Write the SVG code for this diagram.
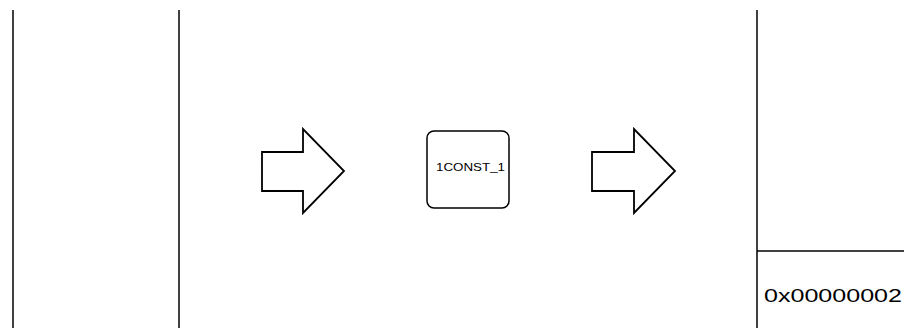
<svg xmlns="http://www.w3.org/2000/svg" width="904" height="328" viewBox="0 0 904 328">
  <style>
    .rule { stroke: #000; stroke-width: 1.5; fill: none; }
    .arrow { stroke: #000; stroke-width: 1.8; fill: #fff; stroke-linejoin: miter; }
    .box { stroke: #000; stroke-width: 1.5; fill: #fff; }
    .lbl { font-family: "Liberation Sans", Arial, sans-serif; fill: #000; }
  </style>
  <rect width="904" height="328" fill="#fff"/>

  <!-- column dividers -->
  <g id="dividers">
    <line class="rule" x1="13" y1="10" x2="13" y2="328"/>
    <line class="rule" x1="179" y1="10" x2="179" y2="328"/>
    <line class="rule" x1="757" y1="10" x2="757" y2="328"/>
    <line class="rule" x1="757" y1="251" x2="904" y2="251"/>
  </g>

  <g id="connectors">
    <polygon class="arrow" points="262,152 303,152 303,129 344,171 303,213 303,191 262,191"/>
    <polygon class="arrow" points="592,152 634,152 634,129 675,171 634,213 634,191 592,191"/>
  </g>

  <g id="const-node">
    <rect class="box" x="427" y="131" width="82" height="77" rx="7" ry="7"/>
    <text class="lbl" x="436" y="171" font-size="11" textLength="69" lengthAdjust="spacingAndGlyphs">1CONST_1</text>
  </g>

  <g id="value-cell">
    <text class="lbl" x="764" y="302" font-size="18" textLength="138" lengthAdjust="spacingAndGlyphs">0x00000002</text>
  </g>
</svg>
